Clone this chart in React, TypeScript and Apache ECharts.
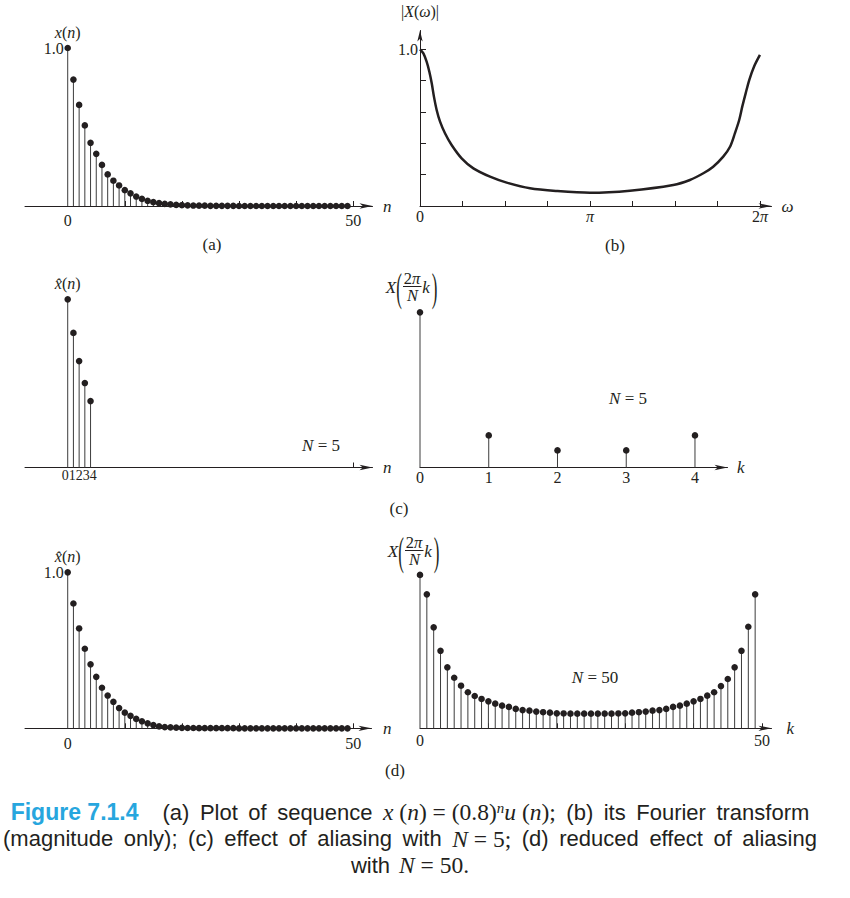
import React, { useEffect, useRef } from "react";
import * as echarts from "echarts";

// (a) x(n) = (0.8)^n u(n), stem heights, n = 0..49
const nIndex50 = [
  0, 1, 2, 3, 4, 5, 6, 7, 8, 9, 10, 11, 12, 13, 14, 15, 16, 17, 18, 19, 20, 21, 22, 23, 24,
  25, 26, 27, 28, 29, 30, 31, 32, 33, 34, 35, 36, 37, 38, 39, 40, 41, 42, 43, 44, 45, 46, 47, 48, 49,
];
const xSeq = [
  1.0, 0.8, 0.64, 0.51, 0.4, 0.33, 0.26, 0.2, 0.16, 0.13, 0.1, 0.08, 0.06, 0.045, 0.033, 0.024,
  0.018, 0.013, 0.01, 0.007, 0.005, 0.004, 0.003, 0.002, 0.002, 0.001, 0.001, 0.001, 0.001, 0.001,
  0, 0, 0, 0, 0, 0, 0, 0, 0, 0, 0, 0, 0, 0, 0, 0, 0, 0, 0, 0,
];

// (b) |X(w)|, w in units of pi
const omegaPi = [
  0, 0.02, 0.039, 0.055, 0.069, 0.082, 0.098, 0.118, 0.147, 0.186, 0.245, 0.314, 0.412, 0.51,
  0.647, 0.804, 1.0, 1.235, 1.49, 1.588, 1.667, 1.725, 1.784, 1.824, 1.853, 1.878, 1.896, 1.916,
  1.937, 1.965, 2.0,
];
const magX = [
  1.0, 0.974, 0.921, 0.857, 0.783, 0.698, 0.613, 0.538, 0.464, 0.389, 0.304, 0.24, 0.187, 0.149,
  0.113, 0.096, 0.085, 0.098, 0.134, 0.166, 0.209, 0.251, 0.315, 0.378, 0.465, 0.549, 0.634, 0.719,
  0.804, 0.889, 0.964,
];

// (c) N = 5
const nIndex5 = [0, 1, 2, 3, 4];
const xHat5 = [1.063, 0.851, 0.673, 0.534, 0.42];
const kIndex5 = [0, 1, 2, 3, 4];
const xk5 = [0.981, 0.203, 0.108, 0.108, 0.203];

// (d) N = 50
const xHat50 = [
  1.0, 0.8, 0.64, 0.51, 0.41, 0.33, 0.26, 0.21, 0.17, 0.13, 0.1, 0.08, 0.06, 0.045, 0.032, 0.021,
  0.012, 0.008, 0.006, 0.004, 0.003, 0.002, 0.002, 0.001, 0.001, 0.001, 0.001, 0.001, 0.001, 0.001,
  0, 0, 0, 0, 0, 0, 0, 0, 0, 0, 0, 0, 0, 0, 0, 0, 0, 0, 0, 0,
];
const xk50 = [
  0.983, 0.859, 0.647, 0.497, 0.391, 0.324, 0.273, 0.231, 0.207, 0.188, 0.173, 0.158, 0.145, 0.137,
  0.124, 0.117, 0.113, 0.107, 0.103, 0.1, 0.096, 0.095, 0.094, 0.094, 0.094, 0.094, 0.094, 0.094,
  0.094, 0.095, 0.096, 0.1, 0.103, 0.107, 0.113, 0.117, 0.124, 0.137, 0.145, 0.158, 0.173, 0.188,
  0.209, 0.231, 0.271, 0.316, 0.391, 0.497, 0.651, 0.859,
];

// ticks and tick labels
const nTicks = [10, 20, 30, 40, 50];
const nLabels = [0, 50];
const omegaTicks = [0.25, 0.5, 0.75, 1, 1.25, 1.5, 1.75, 2];
const omegaLabels = [0, 1, 2];
const omegaLabelText = ["0", "{i|π}", "{r|2}{i|π}"];
const magTicks = [0.2, 0.4, 0.6, 0.8, 1.0];

// caption, split into style runs (t = text, m = math italic, r = math roman)
const captionLine1: [string, string][] = [
  ["fig", "Figure 7.1.4"],
  ["gap", " "],
  ["t", "(a) Plot of sequence "],
  ["m", "x"],
  ["r", " ("],
  ["m", "n"],
  ["r", ") = (0.8)"],
  ["sup", "n"],
  ["m", "u"],
  ["r", " ("],
  ["m", "n"],
  ["r", ");"],
  ["t", " (b) its Fourier transform"],
];
const captionLine2: [string, string][] = [
  ["t", "(magnitude only); (c) effect of aliasing with "],
  ["m", "N"],
  ["r", " = 5;"],
  ["t", " (d) reduced effect of aliasing"],
];
const captionLine3: [string, string][] = [
  ["t", "with "],
  ["m", "N"],
  ["r", " = 50."],
];

const INK = "#231f20";
const BLUE = "#27a6de";
const serif = "'Liberation Serif', 'DejaVu Serif', serif";
const sans = "'Liberation Sans', Arial, sans-serif";

const mathRich = (size: number) => ({
  i: { fontFamily: serif, fontStyle: "italic", fontSize: size, color: INK },
  r: { fontFamily: serif, fontSize: size, color: INK },
});
const gRich = (size: number) => ({
  i: { fontFamily: serif, fontStyle: "italic", fontSize: size, fill: INK },
  r: { fontFamily: serif, fontSize: size, fill: INK },
});

const lineStyle = { color: INK, width: 1 };

const grids = [
  { left: 25, top: 48, width: 347.5, height: 158 },
  { left: 420, top: 30.5, width: 351.5, height: 175.5 },
  { left: 25, top: 293.5, width: 347.5, height: 174 },
  { left: 420, top: 293.5, width: 307.5, height: 174 },
  { left: 25, top: 572.3, width: 346.5, height: 156 },
  { left: 420, top: 572.3, width: 351.5, height: 156 },
];

function xAxisOf(gridIndex: number, min: number, max: number, o: any) {
  return {
    type: "value",
    gridIndex,
    min,
    max,
    axisLine: { show: true, onZero: true, lineStyle, symbol: ["none", "arrow"], symbolSize: [4, 13] },
    axisTick: { show: !!o.ticks, inside: true, length: 5, customValues: o.ticks || [], lineStyle },
    axisLabel: {
      show: true,
      customValues: o.labels,
      formatter: o.formatter,
      margin: o.margin,
      fontFamily: serif,
      fontSize: o.labelSize || 16,
      color: INK,
      rich: mathRich(16),
    },
    splitLine: { show: false },
    name: o.name,
    nameLocation: "end",
    nameGap: o.nameGap,
    nameTextStyle: { fontFamily: serif, fontStyle: "italic", fontSize: 17, color: INK },
  };
}

// y axes sit at n = 0; offset moves them in from the grid's left edge
function yAxisOf(gridIndex: number, max: number, o: any) {
  return {
    type: "value",
    gridIndex,
    min: 0,
    max,
    position: "left",
    offset: o.offset || 0,
    axisLine: { show: !!o.line, onZero: false, lineStyle, symbol: ["none", "arrow"], symbolSize: [4, 11] },
    axisTick: { show: !!o.ticks, inside: true, length: 6, customValues: o.ticks || [], lineStyle },
    axisLabel: {
      show: !!o.labels,
      customValues: o.labels || [],
      formatter: (v: number) => v.toFixed(1),
      margin: o.margin ?? 4,
      padding: [o.pad ?? 6, 0, 0, 0],
      fontFamily: serif,
      fontSize: 16,
      color: INK,
    },
    splitLine: { show: false },
    name: o.name,
    nameLocation: "end",
    nameGap: o.nameGap,
    nameTextStyle: { fontFamily: serif, fontSize: 16, color: INK, rich: mathRich(16) },
  };
}

function stems(gridIndex: number, xs: number[], ys: number[]) {
  return {
    type: "custom",
    xAxisIndex: gridIndex,
    yAxisIndex: gridIndex,
    encode: { x: 0, y: 1 },
    clip: false,
    data: ys.map((v, i) => [xs[i], v]),
    renderItem: (_p: any, api: any) => {
      const base = api.coord([api.value(0), 0]);
      const top = api.coord([api.value(0), api.value(1)]);
      return {
        type: "group",
        children: [
          {
            type: "line",
            shape: { x1: base[0], y1: base[1], x2: top[0], y2: top[1] },
            style: { stroke: "#3c3c3c", lineWidth: 1 },
          },
          { type: "circle", shape: { cx: top[0], cy: top[1], r: 3.3 }, style: { fill: INK } },
        ],
      };
    },
  };
}

function txt(x: number, y: number, text: string, size = 17) {
  return {
    type: "text",
    x,
    y,
    style: {
      text,
      fontFamily: serif,
      fontSize: size,
      fill: INK,
      align: "center",
      verticalAlign: "middle",
      textAlign: "center",
      textVerticalAlign: "middle",
      rich: gRich(size),
    },
  };
}

function paren(x: number, y: number, ch: string) {
  return {
    type: "text",
    x,
    y,
    scaleY: 2.3,
    style: {
      text: ch,
      fontFamily: serif,
      fontSize: 17,
      fill: INK,
      align: "center",
      verticalAlign: "middle",
      textAlign: "center",
      textVerticalAlign: "middle",
    },
  };
}

// X(2pi/N k) label with stacked fraction
function dftLabel(ox: number, oy: number) {
  return [
    txt(ox + 4, oy + 17, "{i|X}"),
    paren(ox + 12, oy + 18, "("),
    txt(ox + 25, oy + 8, "{r|2}{i|π}", 16.5),
    {
      type: "line",
      shape: { x1: ox + 16, y1: oy + 16.5, x2: ox + 34.5, y2: oy + 16.5 },
      style: { stroke: INK, lineWidth: 1 },
    },
    txt(ox + 25.5, oy + 25, "{i|N}", 16.5),
    txt(ox + 39, oy + 17, "{i|k}"),
    paren(ox + 47.5, oy + 18, ")"),
  ];
}

const capRich = (sp: number) => ({
  fig: { fontFamily: sans, fontWeight: "bold", fontSize: 23, fill: BLUE, lineHeight: 24 },
  gap: { width: 24, lineHeight: 24 },
  sp: { width: sp, lineHeight: 24 },
  t: { fontFamily: sans, fontSize: 22, fill: INK, lineHeight: 24 },
  m: { fontFamily: serif, fontStyle: "italic", fontSize: 23.5, fill: INK, lineHeight: 24 },
  r: { fontFamily: serif, fontSize: 23.5, fill: INK, lineHeight: 24 },
  sup: { fontFamily: serif, fontStyle: "italic", fontSize: 15, fill: INK, lineHeight: 12, verticalAlign: "top" },
});

// plain-text runs get word spaces of a set width, so the lines can be justified
function capText(runs: [string, string][]) {
  return runs
    .map(([s, t]) =>
      s === "t" ? t.split(" ").map((w) => (w ? `{t|${w}}` : "")).join("{sp| }") : `{${s}|${t}}`
    )
    .join("");
}

function capLine(y: number, runs: [string, string][], sp: number) {
  return {
    type: "text",
    x: 410,
    y,
    style: {
      text: capText(runs),
      fontFamily: sans,
      fontSize: 22,
      fill: INK,
      align: "center",
      verticalAlign: "middle",
      textAlign: "center",
      textVerticalAlign: "middle",
      rich: capRich(sp),
    },
  };
}

const option: any = {
  animation: false,
  textStyle: { fontFamily: serif },
  grid: grids,
  xAxis: [
    xAxisOf(0, -7.48, 53.38, { ticks: nTicks, labels: nLabels, formatter: (v: number) => String(v), margin: 6, name: "n", nameGap: 10.5 }),
    xAxisOf(1, 0, 2.068, {
      ticks: omegaTicks,
      labels: omegaLabels,
      formatter: (v: number) => omegaLabelText[omegaLabels.indexOf(v)],
      margin: 2,
      name: "ω",
      nameGap: 10,
    }),
    xAxisOf(2, -7.48, 53.38, { ticks: [50], labels: [2], formatter: () => "01234", margin: 1, labelSize: 14, name: "n", nameGap: 10.5 }),
    xAxisOf(3, 0, 4.473, { labels: kIndex5, formatter: (v: number) => String(v), margin: 1.5, name: "k", nameGap: 9.5 }),
    xAxisOf(4, -7.48, 53.2, { ticks: nTicks, labels: nLabels, formatter: (v: number) => String(v), margin: 7, name: "n", nameGap: 11.5 }),
    xAxisOf(5, 0, 51.39, { ticks: nTicks, labels: nLabels, formatter: (v: number) => String(v), margin: 4, name: "k", nameGap: 15 }),
  ],
  yAxis: [
    yAxisOf(0, 1, { offset: -42.7, labels: [1], margin: 4, name: "{i|x}{r|(}{i|n}{r|)}", nameGap: 4 }),
    yAxisOf(1, 1.12, { line: true, ticks: magTicks, labels: [1], margin: 2, pad: 5, name: "{r||}{i|X}{r|(}{i|ω}{r|)|}", nameGap: 11 }),
    yAxisOf(2, 1.1, { offset: -42.7, name: "{i|x̂}{r|(}{i|n}{r|)}", nameGap: 2 }),
    yAxisOf(3, 1.1, {}),
    yAxisOf(4, 1, { offset: -42.7, labels: [1], margin: 4, pad: 4, name: "{i|x̂}{r|(}{i|n}{r|)}", nameGap: 6 }),
    yAxisOf(5, 1, {}),
  ],
  series: [
    stems(0, nIndex50, xSeq),
    {
      type: "line",
      xAxisIndex: 1,
      yAxisIndex: 1,
      data: magX.map((v, i) => [omegaPi[i], v]),
      showSymbol: false,
      smooth: 0.3,
      lineStyle: { color: INK, width: 2.5 },
    },
    stems(2, nIndex5, xHat5),
    stems(3, kIndex5, xk5),
    stems(4, nIndex50, xHat50),
    stems(5, nIndex50, xk50),
  ],
  graphic: [
    txt(212, 244, "(a)"),
    txt(615, 245, "(b)"),
    txt(399, 508, "(c)"),
    txt(395, 770, "(d)"),
    txt(321, 445, "{i|N}{r| = 5}"),
    txt(628, 398, "{i|N}{r| = 5}"),
    txt(595, 677, "{i|N}{r| = 50}"),
    ...dftLabel(387, 270),
    ...dftLabel(389, 534),
    capLine(812, captionLine1, 10.5),
    capLine(838.5, captionLine2, 10.6),
    capLine(865, captionLine3, 9),
  ],
};

export default function App() {
  const chartRef = useRef<HTMLDivElement>(null);

  useEffect(() => {
    if (!chartRef.current) return;
    const chart = echarts.init(chartRef.current, null, { renderer: "svg" });
    chart.setOption(option);
    return () => {
      chart.dispose();
    };
  }, []);

  return (
    <div style={{ position: "fixed", left: 0, top: 0, width: 850, height: 898, background: "#fff" }}>
      <div ref={chartRef} style={{ width: 850, height: 898 }} />
    </div>
  );
}
